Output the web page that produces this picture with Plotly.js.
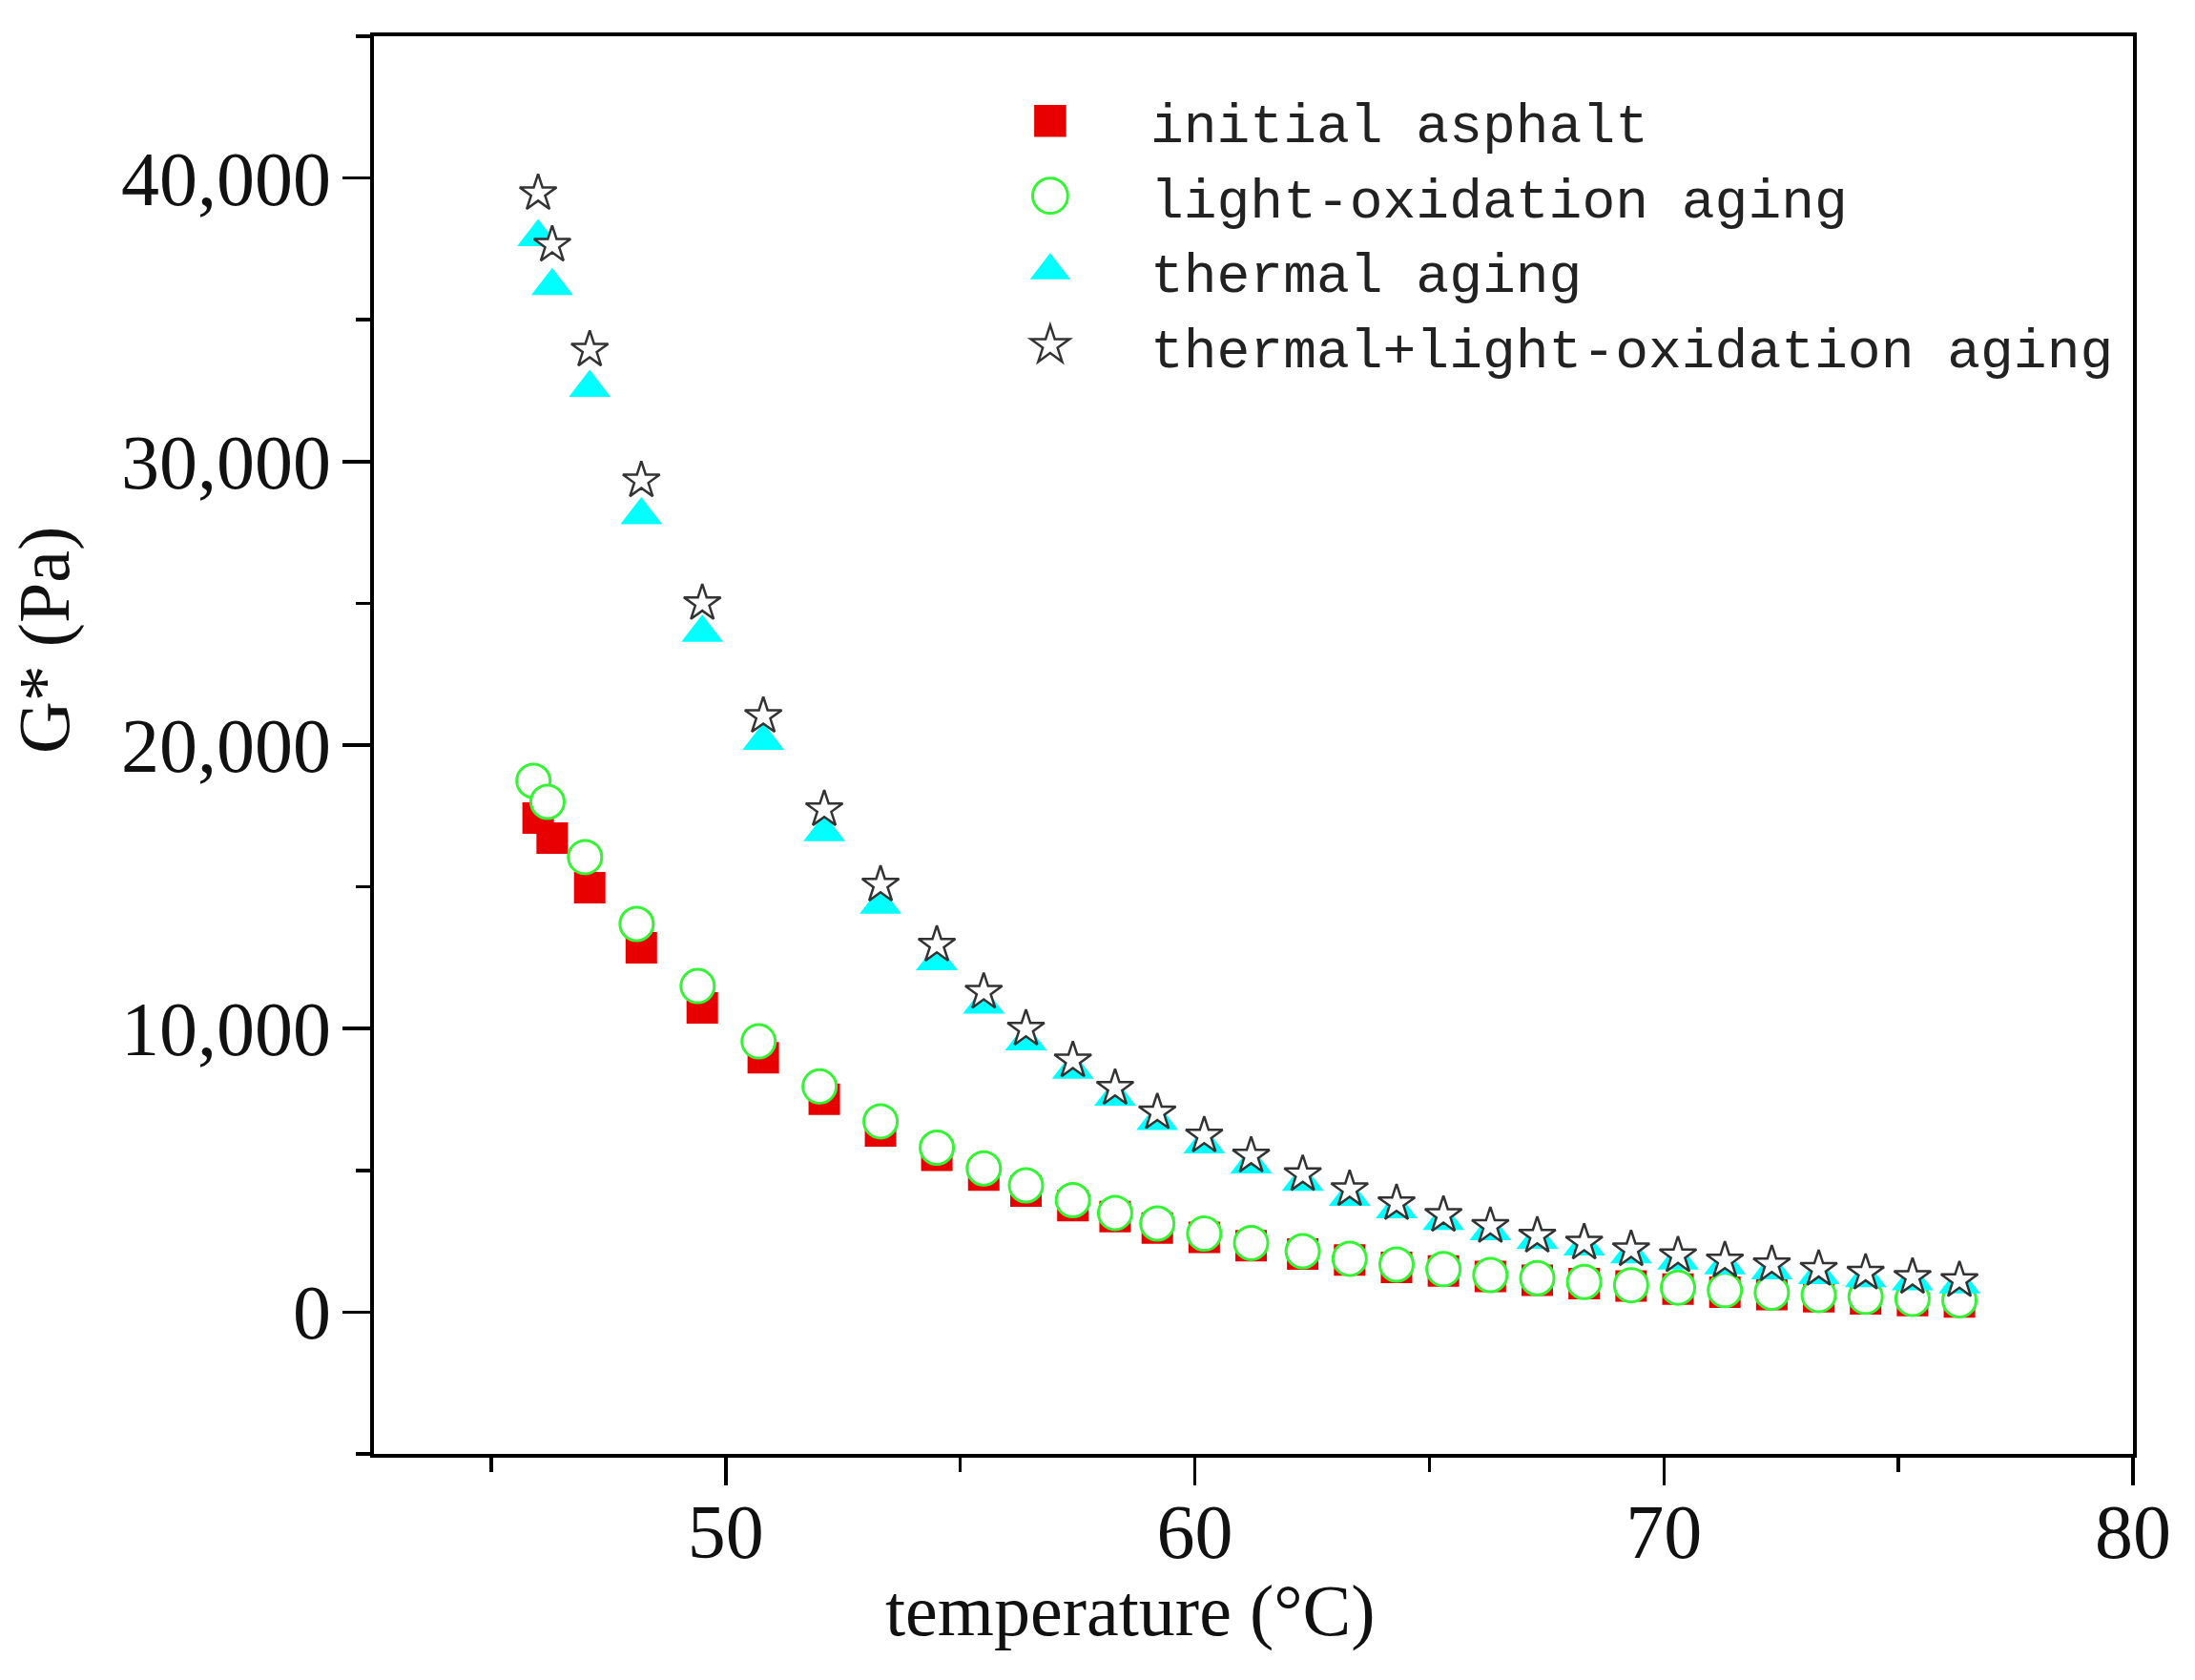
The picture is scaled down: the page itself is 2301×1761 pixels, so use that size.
<!DOCTYPE html>
<html>
<head>
<meta charset="utf-8">
<script src="https://cdn.plot.ly/plotly-3.0.1.min.js"></script>
<style>
  html, body { margin: 0; padding: 0; background: #ffffff; }
  #chart { width: 2301px; height: 1761px; }
</style>
</head>
<body>
<div id="chart"></div>
<script>
// ---- data ----
const seriesNames = [
  "initial asphalt",
  "light-oxidation aging",
  "thermal aging",
  "thermal+light-oxidation aging"
];

const tempCommon = [46.0, 46.3, 47.1, 48.2, 49.5, 50.8, 52.1, 53.3, 54.5, 55.5,
                    56.4, 57.4, 58.3, 59.2, 60.2, 61.2, 62.3, 63.3, 64.3, 65.3,
                    66.3, 67.3, 68.3, 69.3, 70.3, 71.3, 72.3, 73.3, 74.3, 75.3, 76.3];

const tempLight = [45.9, 46.2, 47.0, 48.1, 49.4, 50.7, 52.0, 53.3, 54.5, 55.5,
                   56.4, 57.4, 58.3, 59.2, 60.2, 61.2, 62.3, 63.3, 64.3, 65.3,
                   66.3, 67.3, 68.3, 69.3, 70.3, 71.3, 72.3, 73.3, 74.3, 75.3, 76.3];

const gInitial = [17430, 16720, 14970, 12850, 10730, 8970, 7510, 6390, 5530, 4830,
                  4270, 3760, 3370, 2970, 2640, 2345, 2050, 1840, 1580, 1450,
                  1260, 1120, 1010, 925, 815, 705, 620, 540, 470, 405, 355];

const gLight = [18740, 18000, 16050, 13690, 11500, 9550, 7960, 6730, 5800, 5070,
                4470, 3950, 3500, 3125, 2770, 2440, 2150, 1885, 1680, 1515,
                1310, 1200, 1065, 950, 865, 775, 690, 605, 540, 470, 420];

const gThermal = [37920, 36190, 32600, 28110, 23960, 20150, 16930, 14370, 12380, 10850,
                  9550, 8550, 7600, 6745, 5920, 5210, 4600, 4070, 3630, 3220,
                  2860, 2550, 2320, 2040, 1820, 1650, 1480, 1310, 1200, 1090, 980];

const gBoth = [39460, 37640, 33940, 29330, 25000, 21020, 17730, 15070, 12950, 11290,
               9990, 8870, 7900, 7040, 6220, 5510, 4860, 4330, 3835, 3420,
               3030, 2690, 2445, 2210, 1995, 1815, 1680, 1515, 1380, 1235, 1120];

const xTickVals = [50, 60, 70, 80];
const yTickVals = [0, 10000, 20000, 30000, 40000];

// ---- styling ----
const serif = "Liberation Serif, Times New Roman, serif";
const mono = "Liberation Mono, Courier New, monospace";

const traces = [
  { x: tempCommon, y: gInitial, name: seriesNames[0], type: "scatter", mode: "markers",
    marker: { symbol: "square", size: 33, color: "#e80000", line: { width: 0 } } },
  { x: tempLight, y: gLight, name: seriesNames[1], type: "scatter", mode: "markers",
    marker: { symbol: "circle", size: 35, color: "#ffffff", line: { width: 3, color: "#33f533" } } },
  { x: tempCommon, y: gThermal, name: seriesNames[2], type: "scatter", mode: "markers",
    marker: { symbol: "triangle-up", size: 38, color: "#00ffff", line: { width: 0 } } },
  { x: tempCommon, y: gBoth, name: seriesNames[3], type: "scatter", mode: "markers",
    marker: { symbol: "star", size: 29, color: "#ffffff", line: { width: 2.5, color: "#333333" } } }
];

const axisCommon = {
  showgrid: false, zeroline: false, showline: true, linewidth: 4, linecolor: "#000",
  mirror: true, ticks: "outside", ticklen: 29, tickwidth: 3.5, tickcolor: "#000",
  tickfont: { family: serif, size: 80, color: "#111" }
};

const layout = {
  width: 2301, height: 1761,
  margin: { l: 392, r: 65, t: 38, b: 237, pad: 0 },
  paper_bgcolor: "#ffffff", plot_bgcolor: "#ffffff",
  font: { family: serif, color: "#111" },
  showlegend: true,
  xaxis: Object.assign({}, axisCommon, {
    range: [42.5, 80], tickmode: "array", tickvals: xTickVals,
    ticklabelstandoff: -20,
    minor: { tick0: 0, dtick: 5, ticks: "outside", ticklen: 15, tickwidth: 3.5, tickcolor: "#000", showgrid: false }
  }),
  yaxis: Object.assign({}, axisCommon, {
    range: [-5000, 45000], tickmode: "array", tickvals: yTickVals,
    tickformat: ",d", ticklabelstandoff: -4,
    minor: { tick0: 0, dtick: 5000, ticks: "outside", ticklen: 15, tickwidth: 3.5, tickcolor: "#000", showgrid: false }
  }),
  legend: {
    x: 0.3275, y: 0.97, xanchor: "left", yanchor: "top",
    font: { family: mono, size: 58, color: "#222" },
    bgcolor: "rgba(0,0,0,0)", borderwidth: 0,
    itemwidth: 200, tracegroupgap: 0, itemclick: false
  },
  annotations: [
    { text: "temperature (°C)", xref: "paper", yref: "paper", x: 0.4298, y: -0.111,
      xanchor: "center", yanchor: "middle", showarrow: false,
      font: { family: serif, size: 76, color: "#111" } },
    { text: "G* (Pa)", xref: "paper", yref: "paper", x: -0.1876, y: 0.574,
      xanchor: "center", yanchor: "middle", showarrow: false, textangle: -90,
      font: { family: serif, size: 76, color: "#111" } }
  ]
};

const legendScale = [2.1, 2.3, 2.3, 1.9];

Plotly.newPlot("chart", traces, layout, { staticPlot: true, displayModeBar: false, responsive: false })
  .then(function () {
    document.querySelectorAll("#chart .legend .traces").forEach(function (tr, i) {
      tr.querySelectorAll(".legendpoints path").forEach(function (p) {
        const t = p.getAttribute("transform") || "";
        p.setAttribute("transform", t + " scale(" + legendScale[i] + ")");
        p.style.vectorEffect = "non-scaling-stroke";
      });
    });
  });
</script>
</body>
</html>
